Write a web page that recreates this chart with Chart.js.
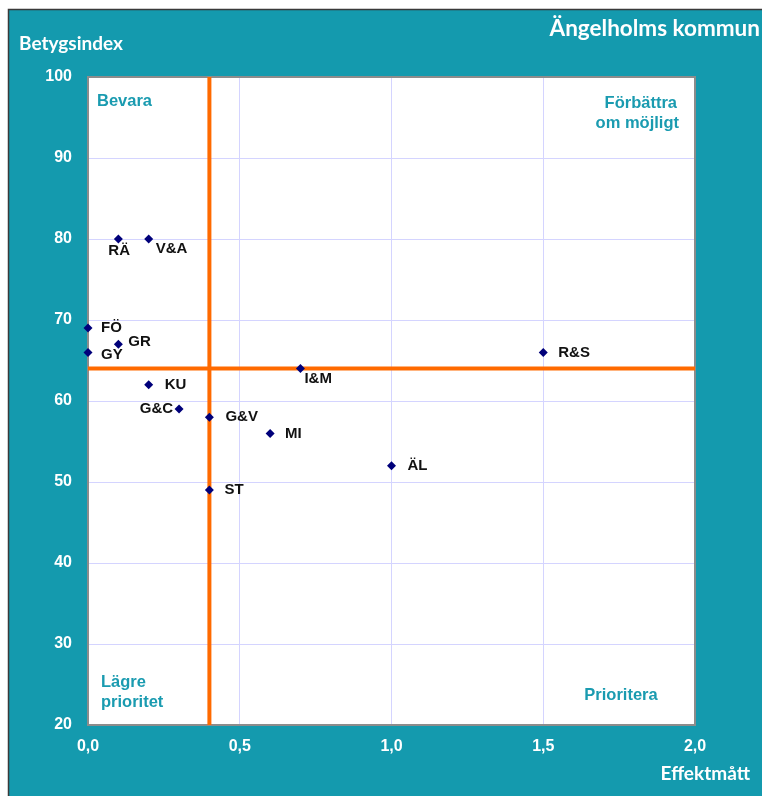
<!DOCTYPE html>
<html>
<head>
<meta charset="utf-8">
<script src="https://cdn.jsdelivr.net/npm/chart.js@4.4.1/dist/chart.umd.min.js"></script>
<style>
html,body{margin:0;padding:0;background:#fff;}
#wrap{position:relative;width:762px;height:796px;}
</style>
</head>
<body>
<div id="wrap"><canvas id="c" width="762" height="796"></canvas></div>
<script>
// Data
const labels = ["RÄ","V&A","FÖ","GY","GR","KU","G&C","G&V","I&M","MI","ÄL","ST","R&S"];
const effekt = [0.1, 0.2, 0.0, 0.0, 0.1, 0.2, 0.3, 0.4, 0.7, 0.6, 1.0, 0.4, 1.5];
const betyg  = [80, 80, 69, 66, 67, 62, 59, 58, 64, 56, 52, 49, 66];
const xThreshold = 0.4;
const yThreshold = 64;
const xTicks = [0, 0.5, 1.0, 1.5, 2.0];
const yTicks = [20, 30, 40, 50, 60, 70, 80, 90, 100];
const title = "Ängelholms kommun";
const yTitle = "Betygsindex";
const xTitle = "Effektmått";
const quadrants = {tl:"Bevara", tr:["Förbättra","om möjligt"], bl:["Lägre","prioritet"], br:"Prioritera"};

// label placement (style only)
const labelPlace = {
  "RÄ":[-10,12,'left'], "V&A":[7,10,'left'], "FÖ":[13,0,'left'], "GY":[13,2,'left'],
  "GR":[10,-2,'left'], "KU":[16,0,'left'], "G&C":[-6,0,'right'], "G&V":[16,0,'left'],
  "I&M":[4,10,'left'], "MI":[15,0,'left'], "ÄL":[16,0,'left'], "ST":[15,0,'left'], "R&S":[15,0,'left']
};

const TEAL = '#149aae';
const points = effekt.map((x,i)=>({x:x, y:betyg[i], label:labels[i]}));

const bgPlugin = {
  id:'bg',
  beforeDraw(chart){
    const ctx = chart.ctx;
    ctx.save();
    ctx.fillStyle = '#fff';
    ctx.fillRect(0,0,chart.width,chart.height);
    ctx.fillStyle = TEAL;
    ctx.fillRect(8,9,chart.width-8,chart.height-9);
    ctx.strokeStyle = '#3a3a3a';
    ctx.lineWidth = 1.5;
    ctx.beginPath();
    ctx.moveTo(8.5,chart.height); ctx.lineTo(8.5,9.5); ctx.lineTo(chart.width,9.5);
    ctx.stroke();
    const a = chart.chartArea;
    ctx.fillStyle = '#fff';
    ctx.fillRect(a.left,a.top,a.right-a.left,a.bottom-a.top);
    ctx.restore();
  },
  beforeDatasetsDraw(chart){
    const ctx = chart.ctx;
    const a = chart.chartArea;
    ctx.save();
    ctx.strokeStyle = '#8c8c8c';
    ctx.lineWidth = 2;
    ctx.strokeRect(a.left,a.top,a.right-a.left,a.bottom-a.top);
    ctx.restore();
  },
  afterDatasetsDraw(chart){
    const ctx = chart.ctx;
    const a = chart.chartArea;
    ctx.save();
    // point labels
    const meta = chart.getDatasetMeta(2);
    ctx.font = 'bold 15px "Liberation Sans", Arial, sans-serif';
    ctx.fillStyle = '#111';
    ctx.textBaseline = 'middle';
    meta.data.forEach((el,i)=>{
      const lab = points[i].label;
      const p = labelPlace[lab] || [12,0,'left'];
      ctx.textAlign = p[2];
      ctx.fillText(lab, el.x + p[0], el.y + p[1]);
    });
    // quadrant labels
    ctx.font = 'bold 16.5px "Liberation Sans", Arial, sans-serif';
    ctx.fillStyle = '#1a9bb0';
    ctx.textAlign = 'left';
    ctx.fillText(quadrants.tl, a.left+9, a.top+24);
    ctx.fillText(quadrants.bl[0], a.left+13, a.bottom-43);
    ctx.fillText(quadrants.bl[1], a.left+13, a.bottom-23);
    ctx.textAlign = 'right';
    ctx.fillText(quadrants.tr[0], a.right-18, a.top+26);
    ctx.fillText(quadrants.tr[1], a.right-16, a.top+46);
    ctx.textAlign = 'center';
    ctx.fillText(quadrants.br, a.right-74, a.bottom-30);
    // titles
    ctx.fillStyle = '#fff';
    ctx.font = 'bold 22.5px Lato, "Open Sans", sans-serif';
    ctx.textAlign = 'right';
    ctx.fillText(title, 760, 29);
    ctx.font = 'bold 19px Lato, "Open Sans", sans-serif';
    ctx.textAlign = 'left';
    ctx.fillText(yTitle, 19, 44);
    ctx.textAlign = 'right';
    ctx.fillText(xTitle, 750, 774);
    ctx.restore();
  }
};

new Chart(document.getElementById('c'), {
  type:'scatter',
  data:{
    datasets:[
      {type:'line', data:[{x:xThreshold,y:20},{x:xThreshold,y:100}], borderColor:'#ff6a00', borderWidth:4, pointRadius:0, order:3},
      {type:'line', data:[{x:0,y:yThreshold},{x:2,y:yThreshold}], borderColor:'#ff6a00', borderWidth:4, pointRadius:0, order:2},
      {data:points, pointStyle:'rectRot', pointRadius:4.5, backgroundColor:'#00007a', borderColor:'#00007a', borderWidth:0, order:1, clip:false}
    ]
  },
  options:{
    responsive:false,
    animation:false,
    devicePixelRatio:1,
    layout:{padding:{top:77,right:67,left:0,bottom:0}},
    plugins:{legend:{display:false}, tooltip:{enabled:false}},
    scales:{
      x:{
        type:'linear', min:0, max:2,
        afterBuildTicks(s){ s.ticks = xTicks.map(v=>({value:v})); },
        afterFit(s){ s.height = 71; },
        grid:{color:'#d4d4ff', lineWidth:1, drawTicks:false},
        border:{display:false},
        ticks:{color:'#fff', padding:12, font:{family:'"Liberation Sans", Arial, sans-serif', size:16, weight:'bold'},
          callback:(v)=>v.toFixed(1).replace('.',',')}
      },
      y:{
        type:'linear', min:20, max:100,
        afterBuildTicks(s){ s.ticks = yTicks.map(v=>({value:v})); },
        afterFit(s){ s.width = 88; },
        grid:{color:'#d4d4ff', lineWidth:1, drawTicks:false},
        border:{display:false},
        ticks:{color:'#fff', padding:16, font:{family:'"Liberation Sans", Arial, sans-serif', size:16, weight:'bold'}}
      }
    }
  },
  plugins:[bgPlugin]
});
</script>
</body>
</html>
